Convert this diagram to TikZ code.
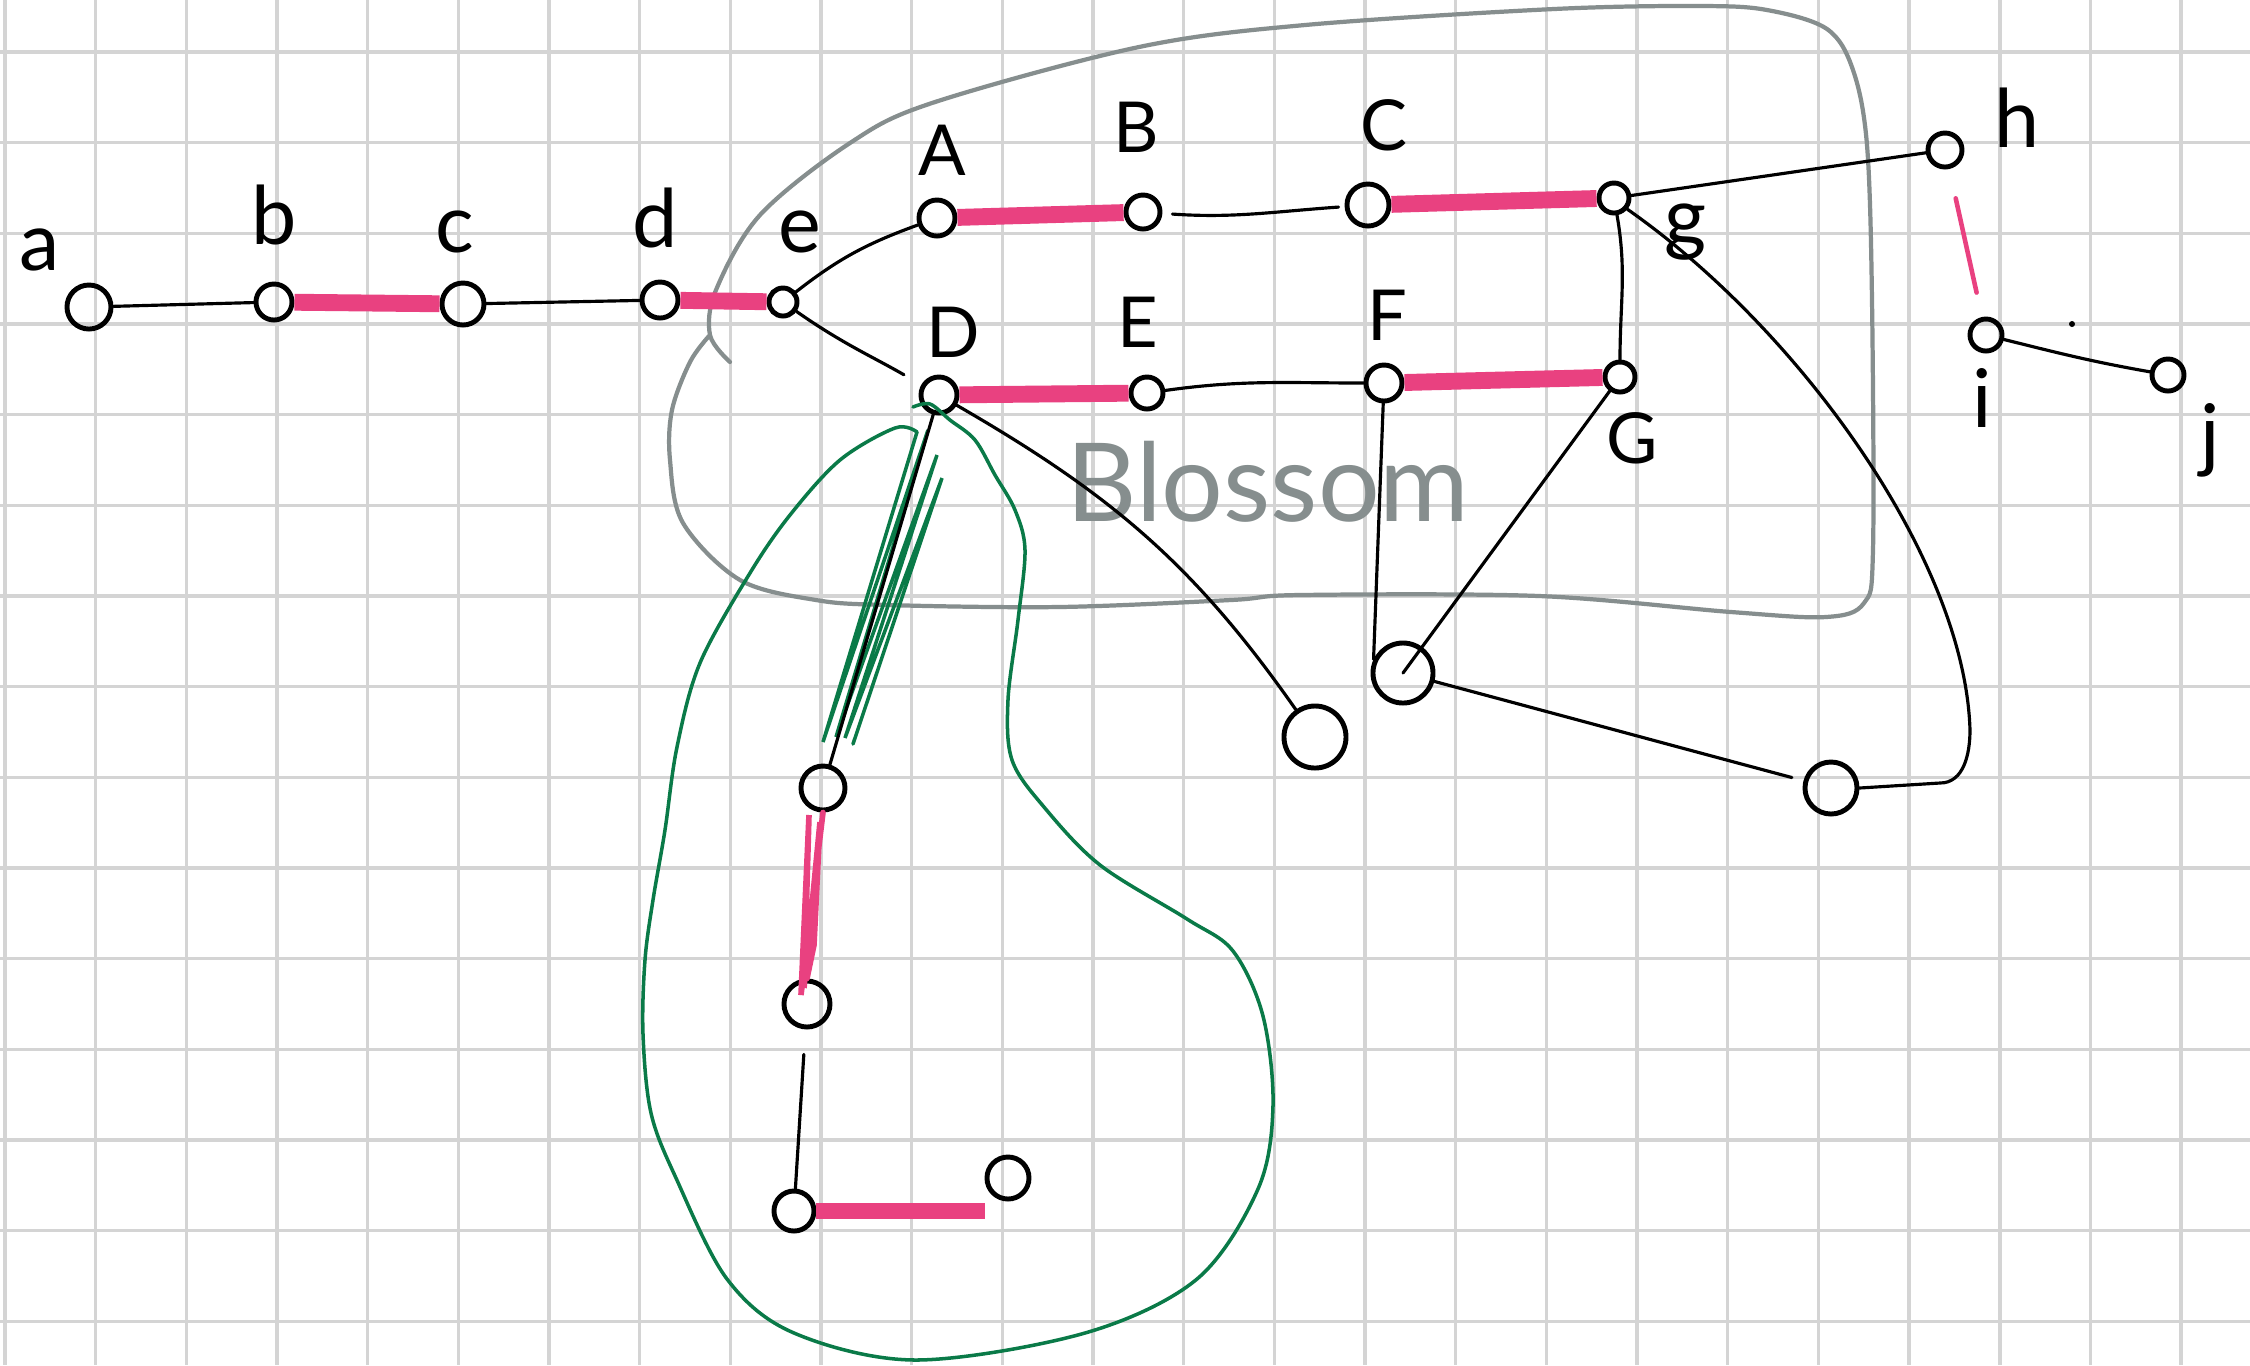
\documentclass[tikz,border=0pt]{standalone}
\usepackage{fontspec}
\setmainfont{Lato}
\definecolor{hl}{RGB}{233,65,128}
\definecolor{leaf}{RGB}{10,122,72}
\definecolor{pencil}{RGB}{134,142,142}
\definecolor{paper}{RGB}{212,212,212}

\begin{document}
\begin{tikzpicture}[x=0.01cm, y=0.01cm,
    vtx/.style={draw, circle, line width=1.4pt, inner sep=0pt, minimum size=0.36cm},
    lbl/.style={inner sep=0pt, font=\fontsize{23}{25}\selectfont},
    caplbl/.style={lbl, font=\fontsize{20}{22}\selectfont},
    edge/.style={line width=0.9pt, line cap=round},
    match/.style={hl, line width=4.8pt},
    thinmatch/.style={hl, line width=1.3pt, line cap=round},
    outline/.style={pencil, line width=1.2pt, line cap=round},
    shrink/.style={leaf, line width=1pt, line cap=round}]
    \useasboundingbox (0,0) rectangle (2250,-1365);
    \fill[white] (0,0) rectangle (2250,-1365);
    \foreach \k in {0,...,24}
        \draw[paper, line width=1pt] ({5+90.67*\k},0) -- ++(0,-1365);
    \foreach \k in {0,...,14}
        \draw[paper, line width=1pt] (0,{-52-90.67*\k}) -- ++(2250,0);

    \node[vtx, minimum size=0.44cm] (a) at (89,-307) {};
    \node[vtx] (b) at (274,-302) {};
    \node[vtx, minimum size=0.42cm] (c) at (463,-304) {};
    \node[vtx] (d) at (660,-300) {};
    \node[vtx, minimum size=0.28cm] (e) at (783,-302) {};
    \node[vtx] (A) at (937,-218) {};
    \node[vtx, minimum size=0.34cm] (B) at (1143,-212) {};
    \node[vtx, minimum size=0.42cm] (C) at (1368,-205) {};
    \node[vtx, minimum size=0.3cm] (g) at (1614,-198) {};
    \node[vtx, minimum size=0.34cm] (h) at (1945,-150) {};
    \node[vtx, minimum size=0.32cm] (i) at (1986,-335) {};
    \node[vtx, minimum size=0.32cm] (j) at (2168,-375) {};
    \node[vtx] (D) at (939,-395) {};
    \node[vtx, minimum size=0.32cm] (E) at (1147,-393) {};
    \node[vtx] (F) at (1384,-383) {};
    \node[vtx, minimum size=0.3cm] (G) at (1620,-377) {};
    \node[vtx, minimum size=0.62cm] (v1) at (1315,-737) {};
    \node[vtx, minimum size=0.6cm] (v2) at (1403,-673) {};
    \node[vtx, minimum size=0.52cm] (v3) at (1831,-788) {};
    \node[vtx, minimum size=0.44cm] (u1) at (823,-788) {};
    \node[vtx, minimum size=0.46cm] (u2) at (807,-1004) {};
    \node[vtx, minimum size=0.4cm] (u3) at (794,-1211) {};
    \node[vtx, minimum size=0.42cm] (u4) at (1008,-1178) {};

    \node[lbl] (la) at (40,-250) {a};
    \node[lbl] (lb) at (274,-215) {b};
    \node[lbl] (lc) at (455,-232) {c};
    \node[lbl] (ld) at (655,-218) {d};
    \node[lbl] (le) at (800,-232) {e};
    \node[caplbl] (lA) at (942,-150) {A};
    \node[caplbl] (lB) at (1136,-127) {B};
    \node[caplbl] (lC) at (1384,-125) {C};
    \node[caplbl] (lD) at (953,-332) {D};
    \node[caplbl] (lE) at (1138,-322) {E};
    \node[caplbl] (lF) at (1387,-315) {F};
    \node[caplbl] (lG) at (1632,-438) {G};
    \node[lbl] (lg) at (1686,-232) {g};
    \node[lbl] (lh) at (2017,-118) {h};
    \node[lbl] (li) at (1982,-398) {i};
    \node[lbl] (lj) at (2210,-440) {j};
    \node[pencil, inner sep=0pt, font=\fontsize{31}{33}\selectfont] (blossom) at (1268,-482) {Blossom};
    \fill (2072,-324) circle (3);

    \draw[outline] plot[smooth, tension=0.55] coordinates {
        (709,-336) (690,-362) (672,-410) (670,-460) (683,-523) (740,-580)
        (816,-600) (887,-605) (1059,-607) (1231,-600) (1300,-595) (1539,-596)
        (1731,-612) (1826,-617) (1864,-603) (1873,-550) (1872,-300) (1867,-145)
        (1853,-70) (1827,-29) (1767,-10) (1700,-6) (1554,-9) (1305,-25)
        (1139,-47) (932,-103) (850,-143) (760,-215) (716,-290) (710,-335) (730,-362)};

    \draw[shrink] plot[smooth, tension=0.55] coordinates {
        (913,-407) (930,-404) (950,-420) (975,-440) (995,-475) (1015,-510)
        (1025,-550) (1018,-620) (1008,-700) (1012,-760) (1044,-807) (1100,-865)
        (1187,-919) (1233,-951) (1263,-1016) (1273,-1106) (1258,-1189) (1197,-1279)
        (1085,-1333) (916,-1360) (794,-1333) (727,-1279) (676,-1178) (651,-1113)
        (643,-1034) (645,-960) (653,-900) (665,-830) (677,-747) (700,-663)
        (750,-573) (790,-515) (840,-460) (895,-428) (917,-432)};
    \draw[shrink] (917,-432) -- (823,-742) -- (928,-430) -- (836,-737)
        -- (937,-455) -- (845,-738) -- (942,-478) -- (853,-744);

    \draw[match] (b) -- (c);
    \draw[match] (d) -- (e);
    \draw[match] (A) -- (B);
    \draw[match] (C) -- (g);
    \draw[match] (D) -- (E);
    \draw[match] (F) -- (G);
    \draw[match] (u3) -- (u3 -| u4.west);
    \draw[thinmatch, shorten <=0.3cm, shorten >=0.25cm] (h) -- (i);
    \draw[thinmatch, line width=1.6pt] (u1.south) -- (801,-995) -- (809,-815)
        -- (804,-988) -- (820,-822) -- (814,-945) -- (u2.north);

    \draw[edge] (a) -- (b);
    \draw[edge] (c) -- (d);
    \draw[edge] (e) to[out=38, in=200] (A);
    \draw[edge, shorten >=0.2cm] (e) to[out=-35, in=150] (D);
    \draw[edge, shorten <=0.1cm, shorten >=0.06cm] (B) to[out=-4, in=184] (C);
    \draw[edge] (E) to[out=8, in=180] (F);
    \draw[edge] (g) to[out=-80, in=90] (G);
    \draw[edge] (g) -- (h);
    \draw[edge] (i) to[out=-14, in=170] (j);
    \draw[edge] (D) -- (u1);
    \draw[edge, shorten <=0.25cm] (u2) -- (u3);
    \draw[edge] (D) to[out=-30, in=125] (v1);
    \draw[edge] (F) -- (v2.155);
    \draw[edge] (G) -- (v2.center);
    \draw[edge, shorten >=0.12cm] (v2) to[out=-15, in=165] (v3);
    \draw[edge] (g.-40) .. controls (1800,-330) and (1965,-560) .. (1970,-730)
        to[out=-90, in=0] (1940,-783) -- (v3.east);
\end{tikzpicture}
\end{document}
